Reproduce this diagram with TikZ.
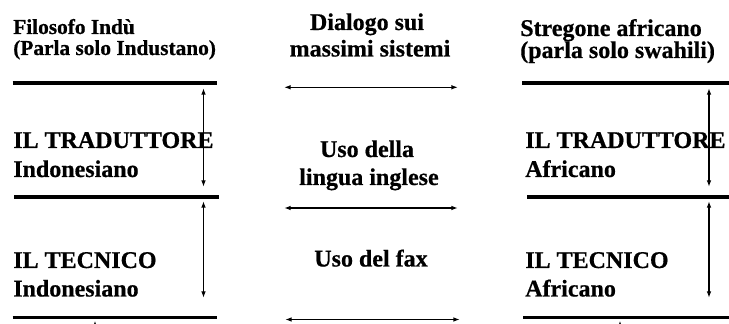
\documentclass[tikz,border=0pt]{standalone}
\usepackage{fontspec}
\setmainfont{Liberation Serif}[BoldFeatures={FakeBold=0.6}]
\usetikzlibrary{arrows.meta}
\tikzset{
  toptxt/.style={font=\bfseries\fontsize{16}{19}\selectfont, inner sep=0pt, anchor=base west},
  bigtxt/.style={font=\bfseries\fontsize{18}{21.5}\selectfont, inner sep=0pt, anchor=base west},
  midtxt/.style={font=\bfseries\fontsize{18}{21.5}\selectfont, inner sep=0pt, anchor=base},
  heavy/.style={line width=2.4pt},
  tipx/.tip={Latex[length=5pt,width=3.5pt]},
  dbl/.style={line width=1pt, tipx-tipx},
  upone/.style={line width=1pt, -tipx},
}
\begin{document}
\begin{tikzpicture}[x=0.75pt,y=-0.75pt]
\clip (0,0) rectangle (729,324);
\fill[white] (0,0) rectangle (729,324);
% left column texts
\node[toptxt] (fil1) at (13,34) {Filosofo Indù};
\node[toptxt] (fil2) at (13,55) {(Parla solo Industano)};
\node[bigtxt] (tr1) at (13,148) {IL TRADUTTORE};
\node[bigtxt] (tr2) at (13,177) {Indonesiano};
\node[bigtxt] (tc1) at (13,268) {IL TECNICO};
\node[bigtxt] (tc2) at (13,296.5) {Indonesiano};
% right column texts
\node[bigtxt] (st1) at (520,36) {Stregone africano};
\node[bigtxt] (st2) at (520,58) {(parla solo swahili)};
\node[bigtxt] (ta1) at (525,148) {IL TRADUTTORE};
\node[bigtxt] (ta2) at (525,177) {Africano};
\node[bigtxt] (ca1) at (525,268) {IL TECNICO};
\node[bigtxt] (ca2) at (525,296.5) {Africano};
% middle texts
\node[midtxt] (d1) at (367,30) {Dialogo sui};
\node[midtxt] (d2) at (370,56.5) {massimi sistemi};
\node[midtxt] (u1) at (367,157) {Uso della};
\node[midtxt] (u2) at (369,185) {lingua inglese};
\node[midtxt] (f1) at (371,266.5) {Uso del fax};
% coordinates for heavy lines
\coordinate (L1a) at (12.5,83); \coordinate (L1b) at (217,83);
\coordinate (L2a) at (14,197); \coordinate (L2b) at (219,197);
\coordinate (L3a) at (12.5,317.3); \coordinate (L3b) at (217,317.3);
\coordinate (R1a) at (522,83); \coordinate (R1b) at (735,83);
\coordinate (R2a) at (527,197); \coordinate (R2b) at (735,197);
\coordinate (R3a) at (523,317.3); \coordinate (R3b) at (735,317.3);
\draw[heavy] (L1a) -- (L1b);
\draw[heavy] (L2a) -- (L2b);
\draw[heavy] (L3a) -- (L3b);
\draw[heavy] (R1a) -- (R1b);
\draw[heavy] (R2a) -- (R2b);
\draw[heavy] (R3a) -- (R3b);
% vertical arrows
\coordinate (LA1t) at (203.5,88); \coordinate (LA1b) at (203.5,187);
\coordinate (LA2t) at (203.5,201); \coordinate (LA2b) at (203.5,298);
\coordinate (RA1t) at (709,88); \coordinate (RA1b) at (709,187);
\coordinate (RA2t) at (709,201); \coordinate (RA2b) at (709,298);
\draw[dbl] (LA1t) -- (LA1b);
\draw[dbl] (LA2t) -- (LA2b);
\draw[dbl] (RA1t) -- (RA1b);
\draw[dbl] (RA2t) -- (RA2b);
% horizontal arrows
\coordinate (H1a) at (284,87.3); \coordinate (H1b) at (458,87.3);
\coordinate (H2a) at (284,208); \coordinate (H2b) at (458,208);
\coordinate (H3a) at (285,319.5); \coordinate (H3b) at (460,319.5);
\draw[dbl] (H1a) -- (H1b);
\draw[dbl] (H2a) -- (H2b);
\draw[dbl] (H3a) -- (H3b);
% bottom arrow tips cut by the edge
\coordinate (BLs) at (95,340); \coordinate (BLt) at (95,320.5);
\coordinate (BRs) at (620,340); \coordinate (BRt) at (620,320.5);
\draw[upone] (BLs) -- (BLt);
\draw[upone] (BRs) -- (BRt);
\end{tikzpicture}
\end{document}
